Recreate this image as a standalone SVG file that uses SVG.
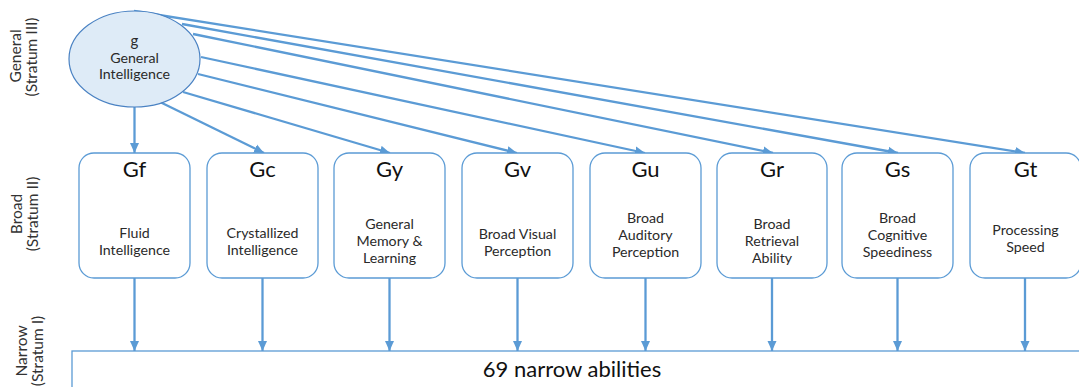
<svg xmlns="http://www.w3.org/2000/svg" width="1079" height="387" viewBox="0 0 1079 387">
<style>
  .side{font-family:Lato,"Open Sans","Liberation Sans",sans-serif;font-size:15.5px;fill:#333;text-anchor:middle}
  .box{fill:#fff;stroke:#5b9bd5;stroke-width:1.3}
  .code{font-family:Lato,"Open Sans","Liberation Sans",sans-serif;font-size:22px;fill:#111;text-anchor:middle}
  .desc{font-family:Lato,"Open Sans","Liberation Sans",sans-serif;font-size:14.2px;fill:#2a2a2a;text-anchor:middle}
  .conn{stroke:#5b9bd5;stroke-width:2.3;fill:none;marker-end:url(#ah)}
</style>
<defs>
  <marker id="ah" markerUnits="userSpaceOnUse" markerWidth="12" markerHeight="10" refX="10" refY="5" orient="auto">
    <path d="M0,0.5 L10,5 L0,9.5 Z" fill="#5b9bd5"/>
  </marker>
</defs>
<rect width="1079" height="387" fill="#fff"/>

<g id="side-labels">
  <text class="side" transform="translate(21,56) rotate(-90)">General</text>
  <text class="side" transform="translate(37,57) rotate(-90)">(Stratum III)</text>
  <text class="side" transform="translate(22,214) rotate(-90)">Broad</text>
  <text class="side" transform="translate(38,214) rotate(-90)">(Stratum II)</text>
  <text class="side" transform="translate(27,351) rotate(-90)">Narrow</text>
  <text class="side" transform="translate(43,351) rotate(-90)">(Stratum I)</text>
</g>

<g id="connectors">
  <line class="conn" x1="134.5" y1="107" x2="134.5" y2="153"/>
  <line class="conn" x1="160" y1="102" x2="264" y2="153"/>
  <line class="conn" x1="183" y1="92" x2="390" y2="153"/>
  <line class="conn" x1="198" y1="74" x2="517" y2="153"/>
  <line class="conn" x1="201" y1="57" x2="645" y2="153"/>
  <line class="conn" x1="193" y1="34" x2="773" y2="153"/>
  <line class="conn" x1="182" y1="24" x2="898" y2="153"/>
  <line class="conn" x1="134" y1="11" x2="1025" y2="153"/>
  <line class="conn" x1="134.5" y1="278" x2="134.5" y2="351"/>
  <line class="conn" x1="262.5" y1="278" x2="262.5" y2="351"/>
  <line class="conn" x1="389.5" y1="278" x2="389.5" y2="351"/>
  <line class="conn" x1="517.5" y1="278" x2="517.5" y2="351"/>
  <line class="conn" x1="645.5" y1="278" x2="645.5" y2="351"/>
  <line class="conn" x1="772" y1="278" x2="772" y2="351"/>
  <line class="conn" x1="897.5" y1="278" x2="897.5" y2="351"/>
  <line class="conn" x1="1025" y1="278" x2="1025" y2="351"/>
</g>

<g id="g">
  <ellipse cx="134.5" cy="59" rx="65.5" ry="48" fill="#deebf7" stroke="#4a82c3" stroke-width="1.2"/>
  <text class="desc" x="134.5" y="46" style="font-size:15px">g</text>
  <text class="desc" x="134.5" y="63">General</text>
  <text class="desc" x="134.5" y="79">Intelligence</text>
</g>

<g id="Gf">
  <rect class="box" x="79" y="153" width="111" height="125" rx="15"/>
  <text class="code" x="134.5" y="177">Gf</text>
  <text class="desc" x="134.5" y="238">Fluid</text>
  <text class="desc" x="134.5" y="255">Intelligence</text>
</g>
<g id="Gc">
  <rect class="box" x="207" y="153" width="111" height="125" rx="15"/>
  <text class="code" x="262.5" y="177">Gc</text>
  <text class="desc" x="262.5" y="238">Crystallized</text>
  <text class="desc" x="262.5" y="255">Intelligence</text>
</g>
<g id="Gy">
  <rect class="box" x="334" y="153" width="111" height="125" rx="15"/>
  <text class="code" x="389.5" y="177">Gy</text>
  <text class="desc" x="389.5" y="229">General</text>
  <text class="desc" x="389.5" y="246">Memory &amp;</text>
  <text class="desc" x="389.5" y="263">Learning</text>
</g>
<g id="Gv">
  <rect class="box" x="462" y="153" width="111" height="125" rx="15"/>
  <text class="code" x="517.5" y="177">Gv</text>
  <text class="desc" x="517.5" y="239">Broad Visual</text>
  <text class="desc" x="517.5" y="256">Perception</text>
</g>
<g id="Gu">
  <rect class="box" x="590" y="153" width="111" height="125" rx="15"/>
  <text class="code" x="645.5" y="177">Gu</text>
  <text class="desc" x="645.5" y="223">Broad</text>
  <text class="desc" x="645.5" y="240">Auditory</text>
  <text class="desc" x="645.5" y="257">Perception</text>
</g>
<g id="Gr">
  <rect class="box" x="717" y="153" width="110" height="125" rx="15"/>
  <text class="code" x="772" y="177">Gr</text>
  <text class="desc" x="772" y="229">Broad</text>
  <text class="desc" x="772" y="246">Retrieval</text>
  <text class="desc" x="772" y="263">Ability</text>
</g>
<g id="Gs">
  <rect class="box" x="842" y="153" width="111" height="125" rx="15"/>
  <text class="code" x="897.5" y="177">Gs</text>
  <text class="desc" x="897.5" y="223">Broad</text>
  <text class="desc" x="897.5" y="240">Cognitive</text>
  <text class="desc" x="897.5" y="257">Speediness</text>
</g>
<g id="Gt">
  <rect class="box" x="970" y="153" width="111" height="125" rx="15"/>
  <text class="code" x="1025.5" y="177">Gt</text>
  <text class="desc" x="1025.5" y="235">Processing</text>
  <text class="desc" x="1025.5" y="252">Speed</text>
</g>

<g id="narrow">
  <rect class="box" x="72" y="351" width="1020" height="60" rx="0"/>
  <text class="code" x="572" y="377" style="font-size:22px">69 narrow abilities</text>
</g>
</svg>
